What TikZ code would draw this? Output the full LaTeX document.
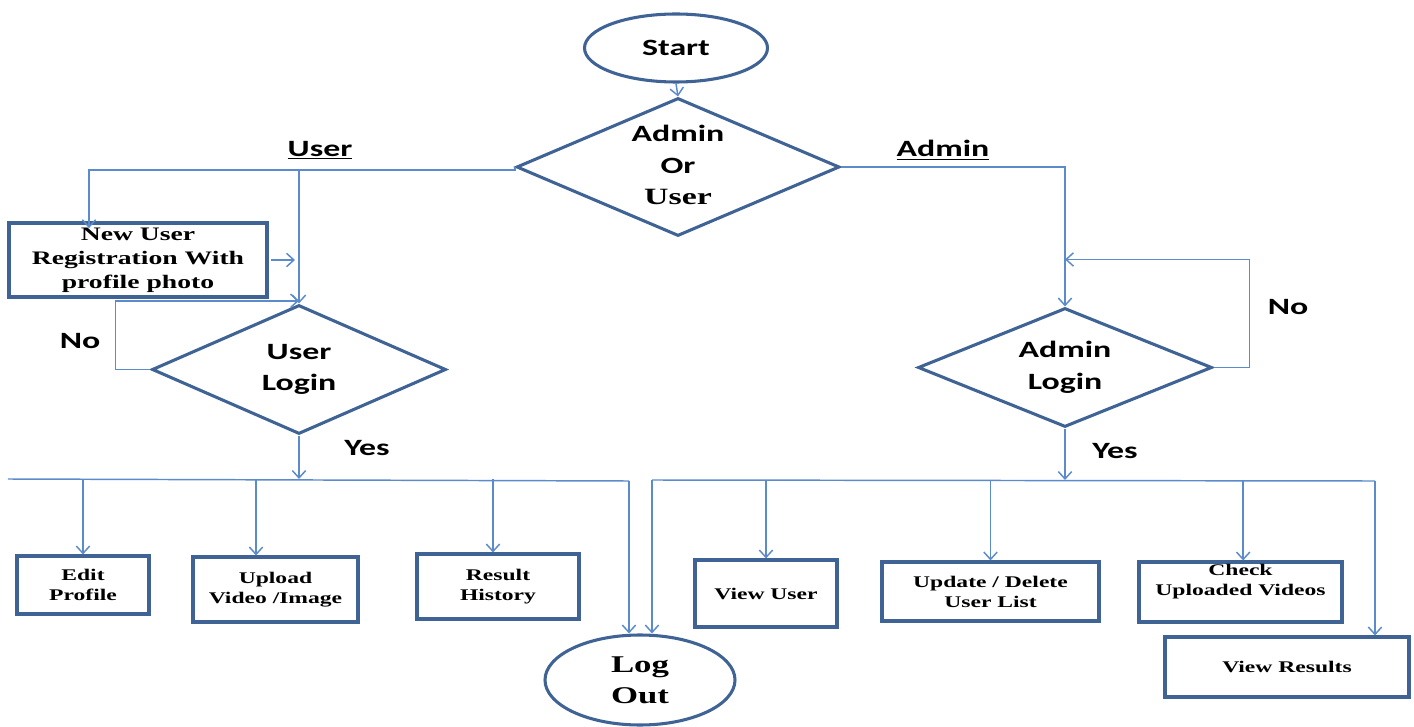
\documentclass[tikz,border=0pt]{standalone}
\usepackage{fontspec}
\usetikzlibrary{shapes.geometric,arrows.meta,calc}
\newfontfamily\sfb{Carlito}[FakeStretch=1.45]
\newfontfamily\rmb{Liberation Serif}[FakeStretch=1.45]
\definecolor{shapeblue}{HTML}{3F6394}
\definecolor{linkblue}{HTML}{5B8BCB}
\tikzset{
  shapeline/.style={draw=shapeblue, line width=2.3pt},
  terminal/.style={shapeline, ellipse, inner sep=0pt, align=center},
  diamondshape/.style={shapeline, diamond, inner sep=0pt},
  decision/.style={diamondshape, align=center,
    font=\sfb\bfseries\fontsize{17.5}{23.6}\selectfont},
  stepbox/.style={shapeline, rectangle, inner sep=0pt, align=center,
    font=\rmb\bfseries\fontsize{12.2}{15}\selectfont},
  boxtext/.style={inner sep=0pt, align=center,
    font=\rmb\bfseries\fontsize{12.2}{15}\selectfont},
  conn/.style={draw=linkblue, line width=1.1pt,
    -{Straight Barb[length=5.5pt,width=10pt]}},
  plain/.style={draw=linkblue, line width=1.1pt},
  tag/.style={inner sep=0pt, font=\sfb\bfseries\fontsize{17.5}{21}\selectfont}
}
\begin{document}
\begin{tikzpicture}[x=0.75pt,y=-0.75pt]
\useasboundingbox (0,0) rectangle (1414,727);

% main shapes
\node[terminal, minimum width=137.25pt, minimum height=51pt,
  font=\sfb\bfseries\fontsize{17.5}{21}\selectfont] (start) at (676,48) {Start};
\node[diamondshape, shape aspect=2.34, minimum width=242.25pt, minimum height=103.5pt,
  font=\bfseries\fontsize{17.5}{23.6}\selectfont] (aou) at (678,167)
  {\begin{tabular}{@{}c@{}}\sfb\bfseries Admin\\\sfb\bfseries Or\\\rmb\bfseries User\end{tabular}};
\node[decision, shape aspect=2.28, minimum width=220.5pt, minimum height=96.75pt] (ul) at (299,369.5)
  {User\\Login};
\node[decision, shape aspect=2.47, minimum width=220.5pt, minimum height=89.25pt] (al) at (1065,367.5)
  {Admin\\Login};

\node[stepbox, minimum width=193.5pt, minimum height=55.5pt,
  font=\rmb\bfseries\fontsize{14.3}{18}\selectfont] (newuser) at (138,260)
  {New User\\Registration With\\profile photo};

\node[stepbox, minimum width=99pt, minimum height=43.5pt] (edit) at (83,585) {Edit\\Profile};
\node[stepbox, minimum width=123.75pt, minimum height=48.75pt] (upload) at (275.5,589.5) {Upload\\Video /Image};
\node[stepbox, minimum width=121.5pt, minimum height=48.75pt] (hist) at (498,586.5) {Result\\History};

\node[stepbox, minimum width=106.5pt, minimum height=50.25pt] (vuser) at (766,593.5) {View User};
\node[stepbox, minimum width=162.75pt, minimum height=44.25pt] (upd) at (990.5,591.5) {Update / Delete\\User List};
\node[stepbox, minimum width=152.25pt, minimum height=45pt] (check) at (1240.5,592) {};
\node[boxtext] (checkT) at (1240.5,582) {Check\\Uploaded Videos};
\node[stepbox, minimum width=183pt, minimum height=45pt] (vres) at (1287,667) {View Results};

\node[terminal, minimum width=142.5pt, minimum height=67.5pt,
  font=\rmb\bfseries\fontsize{18}{23.25}\selectfont] (logout) at (640,680) {Log\\Out};

% labels
\node[tag] (lUser) at (320,150) {\underline{User}};
\node[tag] (lAdmin) at (943,150) {\underline{Admin}};
\node[tag] (lNo1) at (80,341) {No};
\node[tag] (lYes1) at (367,448) {Yes};
\node[tag] (lNo2) at (1288,307) {No};
\node[tag] (lYes2) at (1115,451) {Yes};

% bus coordinates
\coordinate (lbL) at (8,479);
\coordinate (lbR) at (629,481);
\coordinate (rbL) at (652,480);
\coordinate (rbR) at (1375,481);

% connectors top
\draw[conn] (start.south) -- (aou.north);
\draw[conn] (aou.west) -- ++(0,3) -| ([xshift=-36.75pt,yshift=-5pt]newuser.north);
\draw[conn] (ul.north |- 0,170) -- (ul.north);
\draw[conn, shorten <=2pt, shorten >=3pt] (newuser.east) -- (newuser.east -| ul.north);
\draw[conn] (ul.west) -- ++(-35,0) |- ([yshift=2pt]ul.north);
\draw[conn] (aou.east) -| (al.north);
\draw[conn] (al.east) -- ++(36,0) |- ([yshift=35.25pt]al.north);

% left bus
\draw[conn] (ul.south) -- (ul.south |- lbL);
\draw[plain] (lbL) -- (lbR);
\draw[conn] (lbR) -- (lbR |- logout.north);
\draw[conn] (edit.north |- lbL) -- (edit.north);
\draw[conn] ([xshift=-14.6pt]upload.north |- lbL) -- ([xshift=-14.6pt]upload.north);
\draw[conn] ([xshift=-3.75pt]hist.north |- lbL) -- ([xshift=-3.75pt]hist.north);

% right bus
\draw[conn] (al.south) -- (al.south |- rbL);
\draw[plain] (rbL) -- (rbR);
\draw[conn] (rbL) -- (rbL |- logout.north);
\draw[conn] (rbR) -- (rbR |- vres.north);
\draw[conn] (vuser.north |- rbL) -- (vuser.north);
\draw[conn] (upd.north |- rbL) -- (upd.north);
\draw[conn] ([xshift=2pt]check.north |- rbL) -- ([xshift=2pt]check.north);
\end{tikzpicture}
\end{document}
